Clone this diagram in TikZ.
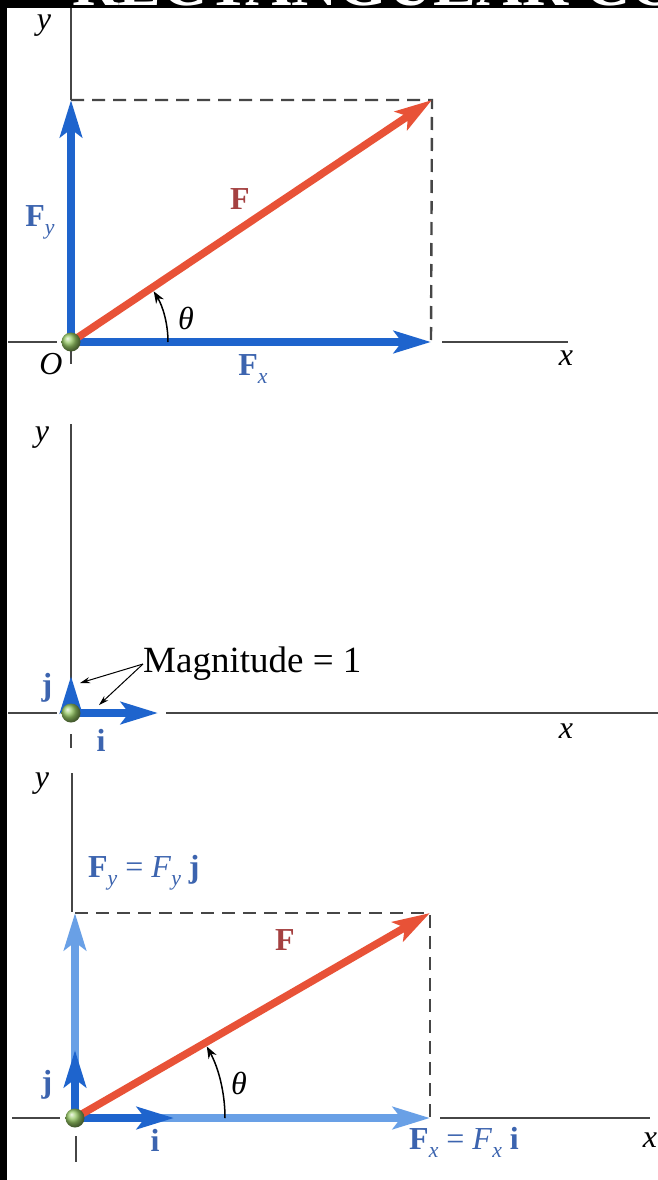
\documentclass[tikz,border=0pt]{standalone}
\usepackage{fontspec}
\usepackage{graphicx}
\setmainfont{Liberation Serif}
\usetikzlibrary{arrows.meta}
\newcommand{\lsub}[1]{\raisebox{-0.25em}{\scalebox{0.68}{\textit{#1}}}}
\definecolor{fblue}{RGB}{30,100,205}
\definecolor{lblue}{RGB}{105,160,230}
\definecolor{fred}{RGB}{232,82,55}
\definecolor{labred}{RGB}{165,65,65}
\definecolor{labblue}{RGB}{60,100,175}
\definecolor{ballg}{RGB}{150,200,100}
\definecolor{axisgray}{RGB}{70,70,70}
\begin{document}
\begin{tikzpicture}[x=1pt,y=-1pt,
  vec/.style={line width=7.5pt,-{Stealth[length=37pt,width=22pt,inset=8pt]}},
  axisline/.style={line width=2pt,axisgray},
  dashline/.style={line width=2.4pt,axisgray,dash pattern=on 13pt off 8pt},
  pointer/.style={line width=1pt,black,-{Stealth[length=10pt,width=6pt]}},
  anglearc/.style={line width=1.5pt,black,-{Stealth[length=12pt,width=9pt]}},
  lab/.style={inner sep=0pt,font=\fontsize{32}{34}\selectfont},
  ball/.style={ball color=ballg}]
\clip (0,0) rectangle (658,1180);
\fill[white] (0,0) rectangle (658,1180);
\fill[black] (0,0) rectangle (658,8);
\fill[black] (0,0) rectangle (7,1180);
\node[anchor=base west,white,inner sep=0pt,font=\fontsize{64}{66}\selectfont\bfseries] (title) at (72,6) {RECTANGULAR CO};

% ---------- panel 1 ----------
\coordinate (O1) at (71,342);
\coordinate (y1top) at (71,8);
\coordinate (P1y) at (71,100);
\coordinate (P1x) at (431,342);
\coordinate (P1c) at (432,100);
\coordinate (x1a) at (8,342);
\coordinate (x1b) at (57,342);
\coordinate (x1c) at (442,342);
\coordinate (x1d) at (568,342);
\coordinate (t1a) at (71,350);
\coordinate (t1b) at (71,364);
\draw[axisline] (y1top) -- (P1y);
\draw[axisline] (x1a) -- (x1b);
\draw[axisline] (x1c) -- (x1d);
\draw[axisline] (t1a) -- (t1b);
\draw[dashline] (P1y) -- (P1c) -- (P1x);
\draw[vec,fblue] (O1) -- (P1x);
\draw[vec,fblue] (O1) -- (P1y);
\draw[vec,fred] (O1) -- (P1c);
\draw[anglearc] ([xshift=97pt]O1) arc (0:-31.5:97);
\shade[ball] (O1) circle (9.5);
\node[lab] (ly1) at (44,26) {\textit{y}};
\node[lab] (lx1) at (566,358) {\textit{x}};
\node[lab] (lO) at (51,364) {\textit{O}};
\node[lab,text=labblue] (lFy1) at (40,222) {\textbf{F}\lsub{y}};
\node[lab,text=labred] (lF1) at (240,199) {\textbf{F}};
\node[lab] (lth1) at (186,318) {\textit{θ}};
\node[lab,text=labblue] (lFx1) at (253,369) {\textbf{F}\lsub{x}};

% ---------- panel 2 ----------
\coordinate (O2) at (71,713);
\coordinate (y2top) at (71,424);
\coordinate (P2j) at (71,676);
\coordinate (P2i) at (158,713);
\coordinate (x2a) at (8,713);
\coordinate (x2b) at (57,713);
\coordinate (x2c) at (166,713);
\coordinate (x2d) at (658,713);
\coordinate (t2a) at (71,734);
\coordinate (t2b) at (71,748);
\draw[axisline] (y2top) -- (O2);
\draw[axisline] (x2a) -- (x2b);
\draw[axisline] (x2c) -- (x2d);
\draw[axisline] (t2a) -- (t2b);
\draw[vec,fblue] (O2) -- (P2j);
\draw[vec,fblue] (O2) -- (P2i);
\shade[ball] (O2) circle (9.5);
\node[lab] (ly2) at (42,438) {\textit{y}};
\node[lab] (lx2) at (566,731) {\textit{x}};
\node[lab,text=labblue] (lj2) at (47,688) {\textbf{j}};
\node[lab,text=labblue] (li2) at (101,740) {\textbf{i}};
\node[anchor=west,inner sep=0pt,font=\fontsize{37}{39}\selectfont] (mag) at (143,664) {Magnitude = 1};
\coordinate (jpt) at (80,683);
\coordinate (ipt) at (99,705);
\draw[pointer] (mag.west) -- (jpt);
\draw[pointer] (mag.west) -- (ipt);

% ---------- panel 3 ----------
\coordinate (O3) at (75,1118);
\coordinate (y3top) at (72,773);
\coordinate (y3bot) at (72,912);
\coordinate (P3y) at (75,913);
\coordinate (P3x) at (430,1118);
\coordinate (P3c) at (430,913);
\coordinate (P3j) at (75,1050);
\coordinate (P3i) at (174,1118);
\coordinate (x3a) at (12,1118);
\coordinate (x3b) at (60,1118);
\coordinate (x3c) at (440,1118);
\coordinate (x3d) at (650,1118);
\coordinate (t3a) at (76,1136);
\coordinate (t3b) at (76,1162);
\draw[axisline] (y3top) -- (y3bot);
\draw[axisline] (x3a) -- (x3b);
\draw[axisline] (x3c) -- (x3d);
\draw[axisline] (t3a) -- (t3b);
\draw[dashline] (P3y) -- (P3c) -- (P3x);
\draw[vec,lblue] (O3) -- (P3x);
\draw[vec,lblue] (O3) -- (P3y);
\draw[vec,fblue] (O3) -- (P3j);
\draw[vec,fblue] (O3) -- (P3i);
\draw[vec,fred] (O3) -- (P3c);
\draw[anglearc] ([xshift=150pt]O3) arc (0:-28.5:150);
\shade[ball] (O3) circle (9.5);
\node[lab] (ly3) at (42,784) {\textit{y}};
\node[lab] (lx3) at (650,1140) {\textit{x}};
\node[lab,text=labblue,anchor=west] (lFy3) at (88,873) {\textbf{F}\lsub{y} = \textit{F}\lsub{y} \textbf{j}};
\node[lab,text=labred] (lF3) at (285,940) {\textbf{F}};
\node[lab] (lth3) at (239,1083) {\textit{θ}};
\node[lab,text=labblue] (lj3) at (47,1085) {\textbf{j}};
\node[lab,text=labblue] (li3) at (155,1140) {\textbf{i}};
\node[lab,text=labblue,anchor=west] (lFx3) at (409,1142) {\textbf{F}\lsub{x} = \textit{F}\lsub{x} \textbf{i}};
\end{tikzpicture}
\end{document}
